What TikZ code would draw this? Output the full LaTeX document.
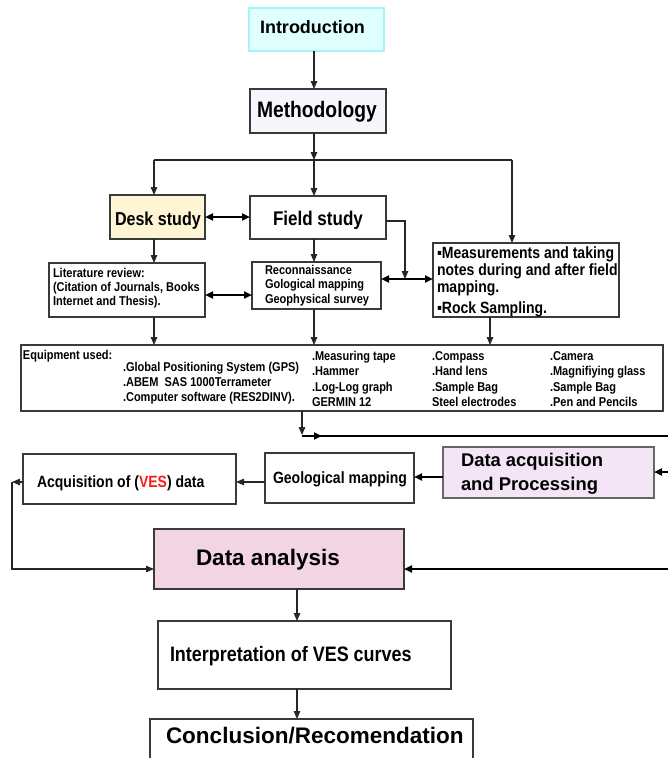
\documentclass[tikz,border=0pt]{standalone}
\usepackage{fontspec}
\setmainfont{Liberation Sans}
\newfontfamily\nf{Liberation Sans}[FakeStretch=0.86]
\usetikzlibrary{arrows.meta,calc}
\definecolor{introfill}{HTML}{E0FFFF}
\definecolor{introline}{HTML}{A6F4FA}
\definecolor{methfill}{HTML}{F8F5FC}
\definecolor{deskfill}{HTML}{FFF4D4}
\definecolor{acqfill}{HTML}{F3E4F6}
\definecolor{anafill}{HTML}{F2D4E3}
\definecolor{edge}{HTML}{3A3A3A}
\definecolor{vesred}{HTML}{FF1A1A}
\tikzset{
  box/.style={draw=edge, line width=1.2pt, inner sep=0pt, outer sep=0pt},
  lbl/.style={anchor=base west, inner sep=0pt, outer sep=0pt},
  arr/.style={draw=black!85, line width=1.1pt, -{Triangle[length=8pt,width=6.5pt]}},
  tarr/.style={draw=black, line width=2pt, -{Triangle[length=8pt,width=7pt]}},
  darr/.style={draw=black, line width=2pt, {Triangle[length=8pt,width=7pt]}-{Triangle[length=8pt,width=7pt]}},
  thin/.style={draw=black!85, line width=1.1pt},
  thk/.style={draw=black, line width=2pt},
}
\newcommand{\mybox}[6]{\node[box,#6,minimum width={#4-#2},minimum height={#5-#3}] (#1) at ({(#2+#4)/2},{(#3+#5)/2}) {};}
\newcommand{\nfs}[1]{\nf\bfseries\fontsize{#1}{#1}\selectfont}
\newcommand{\rfs}[1]{\bfseries\fontsize{#1}{#1}\selectfont}
\begin{document}
\begin{tikzpicture}[x=1pt,y=-1pt]
\useasboundingbox (0,0) rectangle (668,758);
\clip (0,0) rectangle (668,758);
\fill[white] (0,0) rectangle (668,758);
% boxes
\mybox{intro}{249}{8}{384}{51}{fill=introfill,draw=introline}
\mybox{meth}{250}{89}{386}{133}{fill=methfill}
\mybox{desk}{110}{195}{205}{239}{fill=deskfill}
\mybox{field}{250}{196}{386}{239}{fill=white}
\mybox{lit}{49}{263}{205}{317}{fill=white}
\mybox{recon}{252}{262}{381}{309}{fill=white}
\mybox{meas}{433}{243}{619}{317}{fill=white}
\mybox{equip}{21}{345}{663}{411}{fill=white}
\mybox{dacq}{443}{447}{654}{498}{fill=acqfill,draw=black!60}
\mybox{geo}{265}{453}{414}{503}{fill=white}
\mybox{acq}{23}{454}{236}{504}{fill=white}
\mybox{dana}{154}{529}{404}{589}{fill=anafill}
\mybox{interp}{158}{621}{451}{689}{fill=white}
\mybox{concl}{150}{719}{473}{780}{fill=white}
% texts
\node[lbl,font=\rfs{18}] (tintro) at (260,33.5) {Introduction};
\node[lbl,font=\nfs{22.4}] (tmeth) at (257,117) {Methodology};
\node[lbl,font=\nfs{18.7}] (tdesk) at (115,225) {Desk study};
\node[lbl,font=\nfs{19.8}] (tfield) at (273,225) {Field study};
\node[lbl,font=\nfs{12.8}] (tlit1) at (53,277) {Literature review:};
\node[lbl,font=\nfs{12.8}] (tlit2) at (53,291) {(Citation of Journals, Books};
\node[lbl,font=\nfs{12.8}] (tlit3) at (53,305) {Internet and Thesis).};
\node[lbl,font=\nfs{12.8}] (trec1) at (265,274) {Reconnaissance};
\node[lbl,font=\nfs{12.8}] (trec2) at (265,288.5) {Gological mapping};
\node[lbl,font=\nfs{12.8}] (trec3) at (265,303) {Geophysical survey};
\node[lbl,font=\nfs{16.3}] (tmea1) at (437,258) {▪Measurements and taking};
\node[lbl,font=\nfs{16.3}] (tmea2) at (437,275) {notes during and after field};
\node[lbl,font=\nfs{16.3}] (tmea3) at (437,292) {mapping.};
\node[lbl,font=\nfs{16.3}] (tmea4) at (437,313) {▪Rock Sampling.};
\node[lbl,font=\nfs{12.8}] (teq0) at (23,359) {Equipment used:};
\node[lbl,font=\nfs{12.8}] (teq1) at (123,371) {.Global Positioning System (GPS)};
\node[lbl,font=\nfs{12.8}] (teq2) at (123,386) {.ABEM\ \ SAS 1000Terrameter};
\node[lbl,font=\nfs{12.8}] (teq3) at (123,401) {.Computer software (RES2DINV).};
\node[lbl,font=\nfs{12.8}] (teb1) at (312,360) {.Measuring tape};
\node[lbl,font=\nfs{12.8}] (teb2) at (312,375) {.Hammer};
\node[lbl,font=\nfs{12.8}] (teb3) at (312,391) {.Log-Log graph};
\node[lbl,font=\nfs{12.8}] (teb4) at (312,406) {GERMIN 12};
\node[lbl,font=\nfs{12.8}] (tec1) at (432,360) {.Compass};
\node[lbl,font=\nfs{12.8}] (tec2) at (432,375) {.Hand lens};
\node[lbl,font=\nfs{12.8}] (tec3) at (432,391) {.Sample Bag};
\node[lbl,font=\nfs{12.8}] (tec4) at (432,406) {Steel electrodes};
\node[lbl,font=\nfs{12.8}] (ted1) at (550,360) {.Camera};
\node[lbl,font=\nfs{12.8}] (ted2) at (550,375) {.Magnifiying glass};
\node[lbl,font=\nfs{12.8}] (ted3) at (550,391) {.Sample Bag};
\node[lbl,font=\nfs{12.8}] (ted4) at (550,406) {.Pen and Pencils};
\node[lbl,font=\rfs{18.4}] (tdacq1) at (461,466) {Data acquisition};
\node[lbl,font=\rfs{18.4}] (tdacq2) at (461,490) {and Processing};
\node[lbl,font=\nfs{16.3}] (tgeo) at (273,483) {Geological mapping};
\node[lbl,font=\nfs{16.3}] (tacq) at (37,487) {Acquisition of (\textcolor{vesred}{VES}) data};
\node[lbl,font=\rfs{22.5}] (tdana) at (196,565) {Data analysis};
\node[lbl,font=\nfs{20.9}] (tinterp) at (170,661) {Interpretation of VES curves};
\node[lbl,font=\rfs{22.5}] (tconcl) at (166,743) {Conclusion/Recomendation};
% junction coordinates
\coordinate (j) at (314,160);
\coordinate (jl) at (154,160);
\coordinate (jr) at (512,160);
\coordinate (k) at (405,279);
\coordinate (mx) at (490,317);
\coordinate (e1) at (302,436);
\coordinate (r1) at (668,472);
\coordinate (r2) at (668,569);
\coordinate (lx) at (12,482);
\coordinate (cx) at (297,589);
% connectors
\draw[arr] (intro.south -| j) -- (j |- meth.north);
\draw[arr] (meth.south -| j) -- (j);
\draw[thin] (jl) -- (jr);
\draw[arr] (jl) -- (jl |- desk.north);
\draw[arr] (j) -- (j |- field.north);
\draw[arr] (jr) -- (jr |- meas.north);
\draw[darr] (desk.east) -- (desk.east -| field.west);
\draw[arr] (jl |- desk.south) -- (jl |- lit.north);
\draw[arr] (j |- field.south) -- (j |- recon.north);
\draw[arr] ([yshift=-3.5pt]field.east) -| (k);
\draw[darr] (recon.east |- k) -- (meas.west |- k);
\draw[darr] ($(lit.east)+(0,5)$) -- ($(lit.east -| recon.west)+(0,5)$);
\draw[arr] (jl |- lit.south) -- (jl |- equip.north);
\draw[arr] (j |- recon.south) -- (j |- equip.north);
\draw[arr] (mx) -- (mx |- equip.north);
\draw[arr] (e1 |- equip.south) -- ($(e1)+(0,-1)$);
\draw[thk] (e1) -- (668,436);
\draw[tarr] (e1) -- ($(e1)+(20,0)$);
\draw[tarr] (r1) -- (dacq.east |- r1);
\draw[tarr] (dacq.west |- 0,477) -- (geo.east |- 0,477);
\draw[arr] (geo.west |- lx) -- (acq.east |- lx);
\draw[arr] (acq.west |- lx) -- (lx);
\draw[arr] (lx) |- (dana.west |- r2);
\draw[tarr] (r2) -- (dana.east |- r2);
\draw[arr] (cx) -- (cx |- interp.north);
\draw[arr] (cx |- interp.south) -- (cx |- concl.north);
\end{tikzpicture}
\end{document}
